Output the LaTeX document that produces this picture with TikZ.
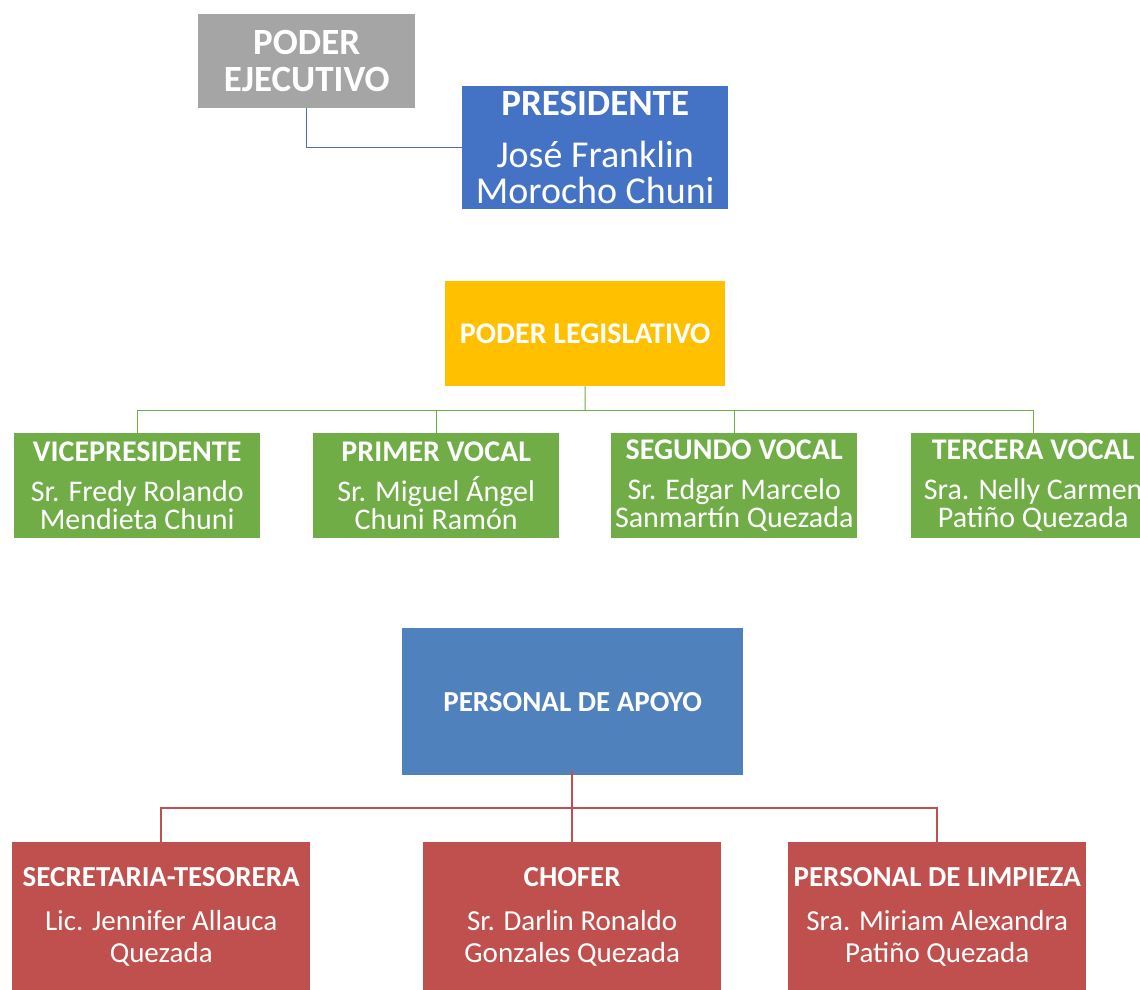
\documentclass[tikz,border=0pt]{standalone}
\usepackage{fontspec}
\setmainfont{Carlito}
\definecolor{cgray}{HTML}{A5A5A5}
\definecolor{cpres}{HTML}{4472C4}
\definecolor{cleg}{HTML}{FFC000}
\definecolor{cgreen}{HTML}{70AD47}
\definecolor{capoyo}{HTML}{4F81BD}
\definecolor{cred}{HTML}{C0504D}
\begin{document}
\begin{tikzpicture}[x=1pt,y=-1pt,
  box/.style={inner sep=0pt, align=center, text=white, anchor=north west},
  greenbox/.style={box, fill=cgreen, minimum width=246pt, minimum height=105pt, font=\fontsize{30}{28}\selectfont},
  redbox/.style={box, fill=cred, minimum width=298pt, minimum height=150pt, font=\fontsize{29}{32}\selectfont},
  blueline/.style={draw=cpres, line width=1pt},
  greenline/.style={draw=cgreen, line width=1pt},
  redline/.style={draw=cred, line width=2.5pt}]
\useasboundingbox (0,0) rectangle (1140,989);
\clip (0,0) rectangle (1140,989);

\node[box, fill=cgray, minimum width=217pt, minimum height=94pt, font=\bfseries\fontsize{37}{37}\selectfont] (ejec) at (198,14) {PODER\\EJECUTIVO};
\node[box, fill=cpres, minimum width=266pt, minimum height=123pt, font=\fontsize{38}{36}\selectfont] (pres) at (462,86) {{\bfseries\fontsize{37}{36}\selectfont PRESIDENTE}\\[16pt]José Franklin\\Morocho Chuni};
\draw[blueline] (ejec.south) |- (pres.west);

\node[box, fill=cleg, minimum width=280pt, minimum height=105pt, font=\bfseries\fontsize{30}{30}\selectfont] (leg) at (445,281) {PODER LEGISLATIVO};

\node[greenbox] (v1) at (14,433) {\textbf{VICEPRESIDENTE}\\[12pt]Sr. Fredy Rolando\\Mendieta Chuni};
\node[greenbox] (v2) at (313,433) {\textbf{PRIMER VOCAL}\\[12pt]Sr. Miguel Ángel\\Chuni Ramón};
\node[greenbox] (v3) at (611,433) {\textbf{SEGUNDO VOCAL}\\[12pt]Sr. Edgar Marcelo\\Sanmartín Quezada};
\node[greenbox, minimum width=244pt] (v4) at (911,433) {\textbf{TERCERA VOCAL}\\[12pt]Sra. Nelly Carmen\\Patiño Quezada};
\coordinate (lbus) at (585,410);
\draw[greenline] (leg.south) -- (lbus);
\foreach \v in {v1,v2,v3,v4} \draw[greenline] (lbus) -| (\v.north);

\node[box, fill=capoyo, minimum width=341pt, minimum height=147pt, font=\bfseries\fontsize{29}{30}\selectfont] (apoyo) at (402,628) {PERSONAL DE APOYO};

\node[redbox] (r1) at (12,842) {\textbf{SECRETARIA-TESORERA}\\[12pt]Lic. Jennifer Allauca\\Quezada};
\node[redbox] (r2) at (423,842) {\textbf{CHOFER}\\[12pt]Sr. Darlin Ronaldo\\Gonzales Quezada};
\node[redbox] (r3) at (788,842) {\textbf{PERSONAL DE LIMPIEZA}\\[12pt]Sra. Miriam Alexandra\\Patiño Quezada};
\coordinate (rbus) at (572,808);
\draw[redline] ([yshift=4pt]apoyo.south -| rbus) -- (rbus);
\foreach \r in {r1,r2,r3} \draw[redline] (rbus) -| (\r.north);
\end{tikzpicture}
\end{document}
